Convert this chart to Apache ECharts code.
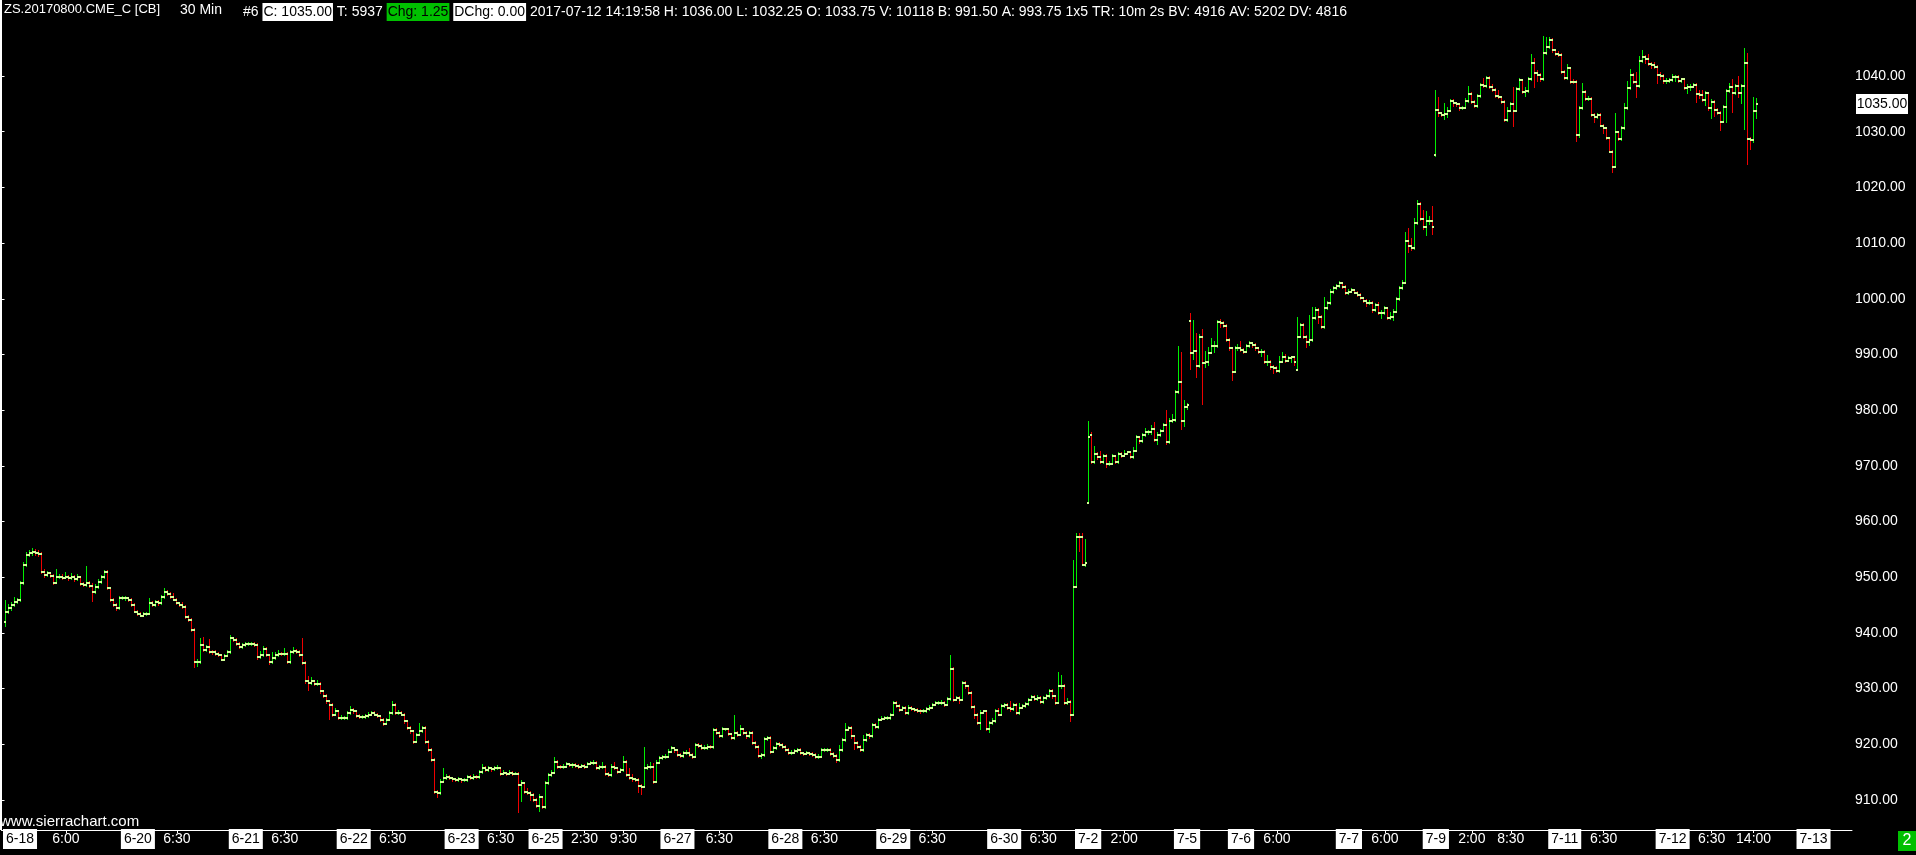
<!DOCTYPE html>
<html><head><meta charset="utf-8">
<script src="https://cdn.jsdelivr.net/npm/echarts@6/dist/echarts.min.js"></script>
<style>html,body{margin:0;padding:0;background:#000;}#c{width:1916px;height:855px;}</style>
</head><body><div id="c"></div>
<script>
// ---- data (30-min bars, ZS Aug 2017) ----
const firstBar = 1;
// each row: [open, high, low, close]
const ohlc = [
[942.0,945.9,941.1,943.8],[943.8,945.2,943.4,944.4],[944.4,945.6,944.0,945.0],[945.0,946.5,944.6,945.6],[945.6,946.3,945.2,945.9],
[945.9,949.4,945.6,948.9],[948.9,952.8,948.6,952.2],[952.2,954.6,951.8,954.0],[954.0,954.9,953.6,954.3],[954.3,955.2,953.9,954.6],
[954.6,955.0,953.9,954.3],[954.3,954.8,953.7,954.2],[954.2,954.5,950.6,951.0],[951.0,951.4,949.8,950.4],[950.4,951.1,950.0,950.7],
[950.7,951.0,949.8,950.2],[950.2,950.6,948.6,949.0],[949.0,951.4,948.8,950.0],[950.0,950.6,949.6,950.1],[950.1,950.5,949.5,949.9],
[949.9,951.0,949.6,950.1],[950.1,950.4,949.4,949.8],[949.8,950.8,949.5,950.1],[950.1,950.4,949.2,949.6],[949.6,950.5,949.3,950.0],
[950.0,950.3,948.4,948.8],[948.8,949.2,948.2,948.6],[948.6,952.0,948.2,948.9],[948.9,949.3,948.0,948.4],[948.4,949.0,945.6,947.4],
[947.4,948.7,947.0,948.3],[948.3,949.6,947.9,949.2],[949.2,950.4,948.8,950.0],[950.0,951.3,949.6,951.0],[951.0,951.3,947.7,948.0],
[948.0,948.3,945.6,945.9],[945.9,946.2,944.7,945.0],[945.0,945.3,943.9,944.4],[944.4,946.6,944.1,946.2],[946.2,946.6,945.9,946.2],
[946.2,946.6,945.8,946.2],[946.2,946.5,945.6,945.9],[945.9,946.2,944.7,945.0],[945.0,945.3,943.5,943.8],[943.8,944.1,943.0,943.4],
[943.4,943.7,942.8,943.1],[943.1,943.8,942.8,943.4],[943.4,943.8,943.0,943.4],[943.4,946.2,943.2,945.3],[945.3,945.7,944.6,945.0],
[945.0,946.0,944.7,945.6],[945.6,945.9,944.9,945.3],[945.3,946.8,945.0,946.4],[946.4,948.0,946.1,947.4],[947.4,947.7,946.6,947.0],
[947.0,947.3,946.1,946.5],[946.5,947.1,945.7,946.0],[946.0,946.3,945.0,945.3],[945.3,945.6,944.6,945.0],[945.0,945.6,944.3,944.7],
[944.7,945.0,942.5,942.9],[942.9,943.2,941.9,942.3],[942.3,942.6,940.1,940.5],[940.5,940.8,933.7,934.8],[934.8,935.3,933.9,934.8],
[934.8,939.0,934.4,937.8],[937.8,939.3,936.5,936.9],[936.9,937.8,936.5,937.4],[937.4,938.9,936.2,936.6],[936.6,937.0,936.1,936.5],
[936.5,936.9,935.9,936.3],[936.3,936.6,935.6,936.0],[936.0,936.3,934.9,935.2],[935.2,936.3,934.9,935.9],[935.9,937.0,935.6,936.6],
[936.6,939.6,936.3,939.0],[939.0,939.3,938.3,938.7],[938.7,939.0,937.6,938.0],[938.0,938.3,937.1,937.5],[937.5,938.2,937.2,937.8],
[937.8,938.4,937.5,938.0],[938.0,938.3,937.6,938.0],[938.0,938.4,937.7,938.0],[938.0,938.3,937.4,937.8],[937.8,938.1,935.1,935.7],
[935.7,936.8,935.3,936.0],[936.0,937.6,935.7,937.2],[937.2,937.5,935.6,936.0],[936.0,936.3,934.3,934.7],[934.7,936.5,934.4,935.5],
[935.5,936.6,935.2,936.0],[936.0,936.9,935.7,936.3],[936.3,936.6,935.8,936.2],[936.2,937.3,935.9,936.3],[936.3,936.6,934.4,934.8],
[934.8,937.0,934.5,936.6],[936.6,937.4,936.3,936.8],[936.8,937.1,936.2,936.6],[936.6,936.9,935.6,936.0],[936.0,939.0,934.2,934.6],
[934.6,934.9,930.9,931.3],[931.3,932.2,929.5,931.0],[931.0,932.0,930.7,931.3],[931.3,931.6,930.4,930.8],[930.8,931.6,930.5,930.8],
[930.8,931.1,929.1,929.5],[929.5,929.8,928.3,928.7],[928.7,929.0,927.3,927.7],[927.7,928.0,924.4,927.1],[927.1,927.4,924.9,925.3],
[925.3,926.5,925.0,925.9],[925.9,926.2,924.3,924.7],[924.7,925.2,924.3,924.7],[924.7,925.0,924.3,924.7],[924.7,926.0,924.4,925.6],
[925.6,926.8,925.3,926.2],[926.2,926.5,925.5,925.9],[925.9,926.2,924.8,925.1],[925.1,925.4,924.6,924.9],[924.9,925.3,924.6,924.9],
[924.9,925.5,924.6,925.1],[925.1,925.8,924.8,925.3],[925.3,926.0,925.0,925.6],[925.6,925.9,925.0,925.3],[925.3,925.6,924.7,925.0],
[925.0,925.3,924.0,924.4],[924.4,924.7,923.3,923.7],[923.7,924.8,923.4,924.4],[924.4,926.0,924.1,925.6],[925.6,927.7,925.3,927.1],
[927.1,927.4,925.3,925.6],[925.6,926.2,925.3,925.7],[925.7,926.0,925.0,925.3],[925.3,925.6,923.7,924.1],[924.1,924.4,922.5,922.9],
[922.9,923.2,921.9,922.3],[922.3,922.6,920.1,920.5],[920.5,922.1,920.2,921.7],[921.7,923.8,921.4,922.3],[922.3,923.3,922.0,922.9],
[922.9,923.2,920.1,920.5],[920.5,920.8,918.6,919.0],[919.0,919.3,916.8,917.2],[917.2,917.5,911.0,911.5],[911.5,911.8,910.3,911.2],
[911.2,913.7,910.9,913.3],[913.3,915.7,913.0,913.9],[913.9,914.6,913.6,914.2],[914.2,914.5,913.5,913.9],[913.9,914.2,913.3,913.7],
[913.7,914.0,913.2,913.6],[913.6,914.1,913.3,913.7],[913.7,914.0,913.1,913.5],[913.5,914.0,913.2,913.6],[913.6,914.5,913.3,914.1],
[914.1,914.4,913.5,913.9],[913.9,914.6,913.6,914.2],[914.2,914.5,913.7,914.1],[914.1,915.4,913.8,915.0],[915.0,916.4,914.7,915.8],
[915.8,916.1,915.0,915.4],[915.4,916.1,915.1,915.7],[915.7,916.0,915.1,915.5],[915.5,916.1,915.2,915.7],[915.7,916.3,915.3,915.7],
[915.7,916.0,914.3,914.7],[914.7,915.3,914.4,914.8],[914.8,915.1,914.3,914.7],[914.7,915.4,914.4,914.9],[914.9,915.2,914.3,914.7],
[914.7,915.1,914.4,914.7],[914.7,915.0,907.7,912.7],[912.7,913.6,909.7,913.0],[913.0,913.3,911.1,911.5],[911.5,912.1,910.9,911.3],
[911.3,911.6,909.8,910.9],[910.9,911.2,909.6,910.0],[910.0,910.3,908.5,908.9],[908.9,911.0,907.8,910.5],[910.5,910.8,908.3,908.7],
[908.7,913.4,908.4,913.0],[913.0,914.9,912.7,914.5],[914.5,915.3,914.2,914.9],[914.9,917.8,914.6,916.9],[916.9,917.2,915.6,916.0],
[916.0,916.3,915.5,915.9],[915.9,916.4,915.6,916.0],[916.0,916.8,915.7,916.4],[916.4,916.7,915.9,916.3],[916.3,916.6,915.8,916.3],
[916.3,916.6,915.7,916.1],[916.1,916.4,915.6,916.0],[916.0,916.5,915.7,916.1],[916.1,916.4,915.6,916.0],[916.0,916.9,915.7,916.5],
[916.5,917.0,916.2,916.6],[916.6,917.2,916.3,916.7],[916.7,917.0,915.3,915.7],[915.7,916.3,915.4,915.9],[915.9,916.9,915.6,916.0],
[916.0,916.3,914.3,914.7],[914.7,915.0,914.1,914.5],[914.5,916.4,914.2,916.0],[916.0,916.9,915.4,915.7],[915.7,916.0,914.7,915.1],
[915.1,915.8,914.8,915.4],[915.4,917.9,915.1,916.9],[916.9,917.2,914.1,914.5],[914.5,915.7,913.5,913.9],[913.9,914.7,913.3,913.7],
[913.7,914.0,913.2,913.6],[913.6,913.9,911.3,912.5],[912.5,912.8,910.9,912.4],[912.4,919.6,912.1,915.7],[915.7,916.4,915.3,916.0],
[916.0,916.9,915.6,916.0],[916.0,916.6,912.9,913.3],[913.3,917.1,913.0,916.7],[916.7,917.9,916.4,917.5],[917.5,918.1,917.2,917.7],
[917.7,918.2,917.4,917.8],[917.8,919.1,917.5,918.7],[918.7,919.7,918.4,919.3],[919.3,919.6,918.5,918.9],[918.9,919.2,917.7,918.1],
[918.1,918.4,917.5,917.9],[917.9,918.8,917.6,918.4],[918.4,918.9,918.1,918.5],[918.5,919.3,917.7,918.1],[918.1,918.4,917.4,917.8],
[917.8,920.3,917.5,919.9],[919.9,920.2,919.3,919.7],[919.7,920.0,918.9,919.3],[919.3,919.8,919.0,919.3],[919.3,920.0,919.0,919.6],
[919.6,919.9,919.1,919.5],[919.5,923.0,919.2,922.6],[922.6,922.9,921.6,922.0],[922.0,922.3,921.1,921.5],[921.5,923.1,921.2,922.7],
[922.7,923.0,922.3,922.7],[922.7,923.0,921.4,921.8],[921.8,922.1,920.7,921.1],[921.1,925.3,920.8,922.1],[922.1,922.4,921.3,921.7],
[921.7,923.5,921.4,922.7],[922.7,923.0,921.7,922.1],[922.1,922.4,921.0,921.4],[921.4,922.4,921.1,922.0],[922.0,922.3,919.9,920.3],
[920.3,920.6,919.2,919.6],[919.6,919.9,917.5,917.9],[917.9,918.5,917.3,918.1],[918.1,921.3,917.8,920.9],[920.9,921.5,920.6,921.1],
[921.1,921.4,918.3,918.7],[918.7,919.7,918.4,919.3],[919.3,920.5,919.0,920.1],[920.1,920.4,919.5,919.9],[919.9,920.2,919.2,919.6],
[919.6,919.9,918.6,919.0],[919.0,919.3,918.1,918.5],[918.5,918.9,918.1,918.5],[918.5,919.2,918.2,918.8],[918.8,919.4,918.5,919.0],
[919.0,919.3,918.0,918.4],[918.4,918.7,917.9,918.3],[918.3,918.8,918.0,918.4],[918.4,918.7,917.9,918.3],[918.3,918.6,917.7,918.1],
[918.1,918.4,917.4,917.8],[917.8,918.2,917.4,917.8],[917.8,919.4,917.5,919.0],[919.0,919.4,918.6,919.0],[919.0,919.3,918.6,919.0],
[919.0,919.3,917.9,918.3],[918.3,918.6,917.5,917.9],[917.9,918.2,916.7,917.1],[917.1,919.9,916.8,918.9],[918.9,921.2,918.6,920.8],
[920.8,923.8,920.5,922.6],[922.6,923.3,922.3,922.9],[922.9,923.2,921.0,921.4],[921.4,921.7,919.0,920.3],[920.3,920.6,919.2,919.6],
[919.6,919.9,918.6,919.0],[919.0,921.7,918.7,920.8],[920.8,922.1,920.5,921.7],[921.7,922.0,921.0,921.4],[921.4,923.9,921.1,923.5],
[923.5,923.8,922.7,923.1],[923.1,924.8,922.8,924.4],[924.4,925.0,924.1,924.6],[924.6,925.1,924.3,924.7],[924.7,925.0,924.3,924.7],
[924.7,925.7,924.4,925.3],[925.3,927.8,925.0,927.4],[927.4,927.7,926.5,926.9],[926.9,927.2,925.8,926.2],[926.2,926.9,925.9,926.5],
[926.5,926.8,925.2,925.6],[925.6,927.0,925.3,926.6],[926.6,926.9,925.9,926.3],[926.3,926.6,925.8,926.2],[926.2,926.5,925.6,926.0],
[926.0,926.3,925.5,925.9],[925.9,926.4,925.6,926.0],[926.0,926.7,925.7,926.3],[926.3,927.0,926.0,926.6],[926.6,927.5,926.3,927.1],
[927.1,927.8,926.8,927.4],[927.4,927.7,927.0,927.4],[927.4,927.9,927.1,927.5],[927.5,927.8,926.7,927.1],[927.1,928.5,926.8,928.1],
[928.1,936.0,927.8,933.5],[933.5,933.8,927.6,928.0],[928.0,928.7,927.7,928.3],[928.3,928.6,927.3,928.0],[928.0,931.4,927.7,931.0],
[931.0,931.3,930.0,930.4],[930.4,930.7,928.8,929.2],[929.2,929.5,926.3,926.7],[926.7,927.0,924.6,925.3],[925.3,925.6,923.5,923.9],
[923.9,926.1,922.6,925.7],[925.7,926.1,925.4,925.9],[925.9,926.2,922.3,922.7],[922.7,924.2,922.0,923.8],[923.8,924.7,923.5,924.1],
[924.1,926.4,923.8,926.0],[926.0,926.6,925.0,925.3],[925.3,927.2,925.0,926.8],[926.8,927.5,926.5,927.1],[927.1,927.4,926.1,926.5],
[926.5,927.8,925.8,926.3],[926.3,927.5,926.0,927.1],[927.1,927.4,925.2,925.6],[925.6,927.4,925.3,926.6],[926.6,927.3,926.3,926.9],
[926.9,927.6,926.6,927.2],[927.2,928.4,926.9,928.0],[928.0,928.9,927.7,928.5],[928.5,928.8,927.7,928.1],[928.1,928.8,927.8,928.4],
[928.4,928.7,927.2,927.6],[927.6,928.7,927.3,928.3],[928.3,929.1,928.0,928.7],[928.7,930.0,928.4,929.6],[929.6,929.9,928.2,928.6],
[928.6,928.9,927.1,927.5],[927.5,933.0,927.2,930.5],[930.5,932.5,930.0,930.5],[930.5,930.8,927.0,927.4],[927.4,928.3,927.1,927.6],
[927.6,927.9,924.0,925.2],[925.2,953.1,925.0,948.3],[948.3,957.9,948.0,957.3],[957.3,957.9,954.5,957.2],[957.2,957.9,952.0,952.2],
[952.2,956.8,951.8,952.5],[963.4,978.0,963.2,975.2],[975.5,976.0,970.3,970.7],[970.7,973.5,970.4,972.2],[972.2,972.5,971.0,971.6],
[971.6,972.6,970.3,970.7],[970.7,972.1,970.4,971.8],[971.8,972.1,969.7,970.3],[970.3,970.8,970.0,970.4],[970.4,972.1,970.1,971.7],
[971.7,972.0,970.3,970.7],[970.7,972.5,970.4,972.1],[972.1,972.4,971.4,971.8],[971.8,972.9,971.5,972.2],[972.2,972.7,971.9,972.4],
[972.4,972.7,971.2,971.6],[971.6,973.3,971.3,972.7],[972.7,975.5,972.4,975.1],[975.1,975.4,974.0,974.4],[974.4,975.9,974.1,975.5],
[975.5,976.8,975.2,976.0],[976.0,976.4,975.6,976.1],[976.1,977.3,975.6,976.7],[976.7,977.8,974.2,974.6],[974.6,976.0,973.7,975.5],
[975.5,976.7,975.2,976.3],[976.3,977.7,976.0,977.3],[977.3,980.0,973.8,974.2],[974.2,978.6,973.9,978.0],[978.0,979.3,977.7,978.2],
[978.2,983.7,977.9,983.3],[983.3,991.5,982.9,985.0],[985.0,990.5,976.4,978.0],[978.0,981.8,977.0,980.5],[980.5,981.3,980.1,980.9],
[996.0,997.4,987.2,990.2],[990.2,996.2,989.0,990.7],[990.7,993.8,985.7,987.9],[987.9,993.6,987.5,993.2],[993.2,994.5,981.0,988.5],
[988.5,990.6,987.5,988.7],[988.7,991.3,987.9,990.3],[990.3,992.9,990.0,991.5],[991.5,992.5,990.2,991.5],[991.5,996.2,991.2,995.8],
[995.8,996.3,994.8,995.7],[995.7,996.0,994.7,995.1],[995.1,995.4,992.2,992.6],[992.6,992.9,990.7,991.1],[991.1,991.4,985.2,986.9],
[986.9,991.5,986.6,991.1],[991.1,991.8,990.6,991.2],[991.2,992.5,990.5,990.8],[990.8,991.1,990.0,990.5],[990.5,991.9,990.2,991.5],
[991.5,992.4,991.2,992.0],[992.0,992.3,991.2,991.7],[991.7,992.0,990.7,991.1],[991.1,991.4,990.1,990.5],[990.5,991.0,989.5,990.5],
[990.5,990.8,988.3,988.7],[988.7,989.9,988.0,988.7],[988.7,989.0,987.2,987.8],[987.8,988.1,986.5,987.6],[987.6,988.0,986.6,987.0],
[987.0,989.7,986.7,988.7],[988.7,990.5,988.4,989.5],[989.5,990.0,988.4,988.9],[988.9,989.7,988.6,989.3],[989.3,989.8,988.5,989.5],
[989.5,989.8,988.0,988.7],[987.3,996.8,987.0,993.2],[993.2,995.7,992.9,995.3],[995.3,995.6,992.8,993.2],[993.2,993.5,991.2,992.3],
[992.3,997.0,991.5,992.6],[992.6,998.6,992.3,996.5],[996.5,998.6,996.2,998.0],[998.0,998.3,995.5,996.8],[996.8,997.1,994.5,994.9],
[994.9,1000.4,994.6,998.3],[998.3,999.6,998.0,999.2],[999.2,1001.7,998.9,1001.3],[1001.3,1002.3,1000.9,1001.9],[1001.9,1002.7,1001.6,1002.3],
[1002.3,1003.2,1002.0,1002.8],[1002.8,1003.1,1001.8,1002.2],[1002.2,1002.5,1000.6,1001.0],[1001.0,1001.7,1000.7,1001.3],[1001.3,1001.9,1001.0,1001.5],
[1001.5,1001.8,1000.8,1001.1],[1001.1,1001.4,1000.3,1000.7],[1000.7,1001.0,999.7,1000.1],[1000.1,1000.4,999.2,999.6],[999.6,999.9,998.6,999.3],
[999.3,999.7,998.9,999.3],[999.3,999.6,997.5,997.9],[997.9,999.3,997.6,998.9],[998.9,999.4,997.0,997.4],[997.4,998.0,996.4,997.4],
[997.4,998.7,997.1,998.3],[998.3,998.6,996.1,996.5],[996.5,997.7,996.2,996.8],[996.8,998.1,996.0,997.7],[997.7,1000.3,997.4,999.9],
[999.9,1002.3,999.6,1001.9],[1001.9,1003.3,1001.6,1002.9],[1002.9,1012.0,1002.6,1010.3],[1010.3,1012.7,1008.2,1009.5],[1009.5,1011.0,1008.5,1009.1],
[1009.1,1014.5,1008.8,1013.6],[1013.6,1017.8,1013.3,1017.1],[1017.1,1017.4,1013.9,1014.3],[1014.3,1015.9,1012.4,1012.8],[1012.8,1015.8,1011.3,1013.9],
[1013.9,1014.8,1013.2,1014.0],[1014.0,1016.7,1011.5,1012.8],[1025.9,1037.5,1025.5,1033.9],[1033.9,1036.2,1032.7,1033.3],[1033.3,1033.6,1032.6,1033.0],
[1033.0,1035.1,1032.1,1033.1],[1033.1,1034.4,1032.5,1033.8],[1033.8,1035.9,1033.5,1035.5],[1035.5,1035.8,1034.4,1035.1],[1035.1,1035.4,1034.5,1034.9],
[1034.9,1035.2,1033.8,1034.2],[1034.2,1034.7,1033.9,1034.3],[1034.3,1036.0,1034.0,1035.5],[1035.5,1038.2,1035.2,1036.8],[1036.8,1037.1,1035.0,1035.4],
[1035.4,1035.7,1034.2,1034.6],[1034.6,1036.8,1034.3,1036.4],[1036.4,1038.8,1036.1,1038.4],[1038.4,1039.6,1037.8,1038.2],[1038.2,1040.0,1037.9,1039.7],
[1039.7,1040.0,1037.7,1038.1],[1038.1,1038.6,1037.1,1037.5],[1037.5,1037.8,1036.0,1036.4],[1036.4,1037.4,1035.8,1036.2],[1036.2,1036.5,1035.0,1035.4],
[1035.4,1035.7,1031.8,1032.1],[1032.1,1034.5,1031.8,1033.8],[1033.8,1035.4,1033.5,1035.0],[1035.0,1038.1,1030.9,1033.8],[1033.8,1038.0,1033.5,1037.6],
[1037.6,1039.6,1037.3,1039.2],[1039.2,1039.5,1036.8,1037.2],[1037.2,1038.0,1036.2,1037.3],[1037.3,1039.8,1037.0,1039.4],[1039.4,1044.0,1039.1,1042.4],
[1042.4,1043.2,1037.8,1040.6],[1040.6,1041.0,1039.0,1040.2],[1040.2,1040.5,1039.0,1039.4],[1039.4,1047.2,1039.1,1044.1],[1044.1,1047.0,1043.8,1045.2],
[1045.2,1047.0,1044.9,1046.5],[1046.5,1046.8,1044.2,1044.6],[1044.6,1044.9,1043.6,1044.0],[1044.0,1044.5,1043.5,1043.8],[1043.8,1044.1,1040.3,1040.7],
[1040.7,1041.0,1039.2,1039.6],[1039.6,1042.2,1039.3,1041.4],[1041.4,1041.7,1038.6,1039.0],[1039.0,1039.5,1038.6,1038.9],[1038.9,1039.2,1028.2,1029.4],
[1029.4,1034.6,1028.8,1034.2],[1034.2,1038.7,1033.9,1037.2],[1037.2,1037.5,1035.5,1035.8],[1035.8,1036.5,1035.5,1035.9],[1035.9,1036.2,1032.7,1033.0],
[1033.0,1033.4,1031.6,1032.6],[1032.6,1033.4,1032.3,1033.0],[1033.0,1033.3,1030.8,1031.1],[1031.1,1031.4,1029.6,1030.6],[1030.6,1030.9,1028.5,1028.8],
[1028.8,1029.1,1026.1,1026.4],[1026.4,1026.7,1022.5,1023.7],[1023.7,1033.3,1023.4,1029.9],[1029.9,1030.2,1028.4,1028.7],[1028.7,1031.0,1028.4,1030.6],
[1030.6,1035.1,1030.3,1034.2],[1034.2,1039.1,1033.9,1037.8],[1037.8,1041.2,1037.5,1040.2],[1040.2,1040.5,1038.6,1038.9],[1038.9,1040.8,1036.0,1038.2],
[1038.2,1043.6,1037.9,1042.7],[1042.7,1044.6,1042.4,1043.4],[1043.4,1043.7,1042.1,1043.0],[1043.0,1044.0,1041.8,1042.1],[1042.1,1042.6,1041.3,1041.9],
[1041.9,1042.5,1041.2,1041.6],[1041.6,1041.9,1038.6,1040.1],[1040.1,1040.8,1039.3,1040.0],[1040.0,1040.3,1038.6,1039.1],[1039.1,1039.6,1038.6,1039.1],
[1039.1,1039.6,1038.8,1039.3],[1039.3,1040.4,1039.0,1039.8],[1039.8,1040.1,1038.9,1039.8],[1039.8,1040.1,1038.7,1039.1],[1039.1,1039.7,1038.8,1039.4],
[1039.4,1039.7,1037.4,1037.8],[1037.8,1038.5,1036.8,1038.1],[1038.1,1038.6,1037.3,1038.1],[1038.1,1038.8,1037.8,1038.4],[1038.4,1038.7,1035.2,1036.8],
[1036.8,1037.4,1035.9,1036.6],[1036.6,1037.5,1035.3,1035.7],[1035.7,1037.3,1034.6,1036.9],[1036.9,1037.2,1033.8,1034.2],[1034.2,1035.8,1032.2,1035.4],
[1035.4,1035.7,1032.6,1033.9],[1033.9,1034.2,1033.0,1033.4],[1033.4,1033.7,1030.1,1031.8],[1031.8,1034.8,1031.5,1034.4],[1034.4,1037.7,1031.6,1037.3],
[1037.3,1038.8,1037.0,1038.1],[1038.1,1039.5,1033.4,1036.9],[1036.9,1038.6,1036.6,1038.2],[1038.2,1040.0,1036.0,1036.9],[1036.9,1038.6,1035.0,1038.2],
[1038.2,1045.0,1030.3,1042.3],[1042.3,1044.1,1024.0,1028.7],[1028.7,1029.0,1026.7,1028.5],[1028.5,1036.3,1028.0,1033.75],[1033.75,1036.0,1032.25,1035.0]
];
const xLabelBars  = [0,21,45,58,81,94,117,130,153,166,181,194,207,225,239,261,274,297,310,334,347,362,374,395,413,425,449,461,478,490,503,521,534,557,570,584,604];
const xLabelTexts = ['6-18','6:00','6-20','6:30','6-21','6:30','6-22','6:30','6-23','6:30','6-25','2:30','9:30','6-27','6:30','6-28','6:30','6-29','6:30','6-30','6:30','7-2','2:00','7-5','7-6','6:00','7-7','6:00','7-9','2:00','8:30','7-11','6:30','7-12','6:30','14:00','7-13'];
const yTicks = [910,920,930,940,950,960,970,980,990,1000,1010,1020,1030,1040];
const headerSymbol = 'ZS.20170800.CME_C [CB]';
const headerPeriod = '30 Min';
const headerRest = '#6 {w|C: 1035.00} T: 5937 {g|Chg: 1.25} {w|DChg: 0.00} 2017-07-12 14:19:58 H: 1036.00 L: 1032.25 O: 1033.75 V: 10118 B: 991.50 A: 993.75 1x5 TR: 10m 2s BV: 4916 AV: 5202 DV: 4816';
const footerText = 'www.sierrachart.com';
const cornerText = '2';

// ---- chart ----
const FONT = "'Liberation Sans', Arial, sans-serif";
const UP = '#00ee00', DOWN = '#ee0000', TICKC = '#d2ff96';
const chart = echarts.init(document.getElementById('c'), null, {renderer: 'canvas'});
const seriesData = ohlc.map((r, k) => [firstBar + k + 0.5, r[0], r[1], r[2], r[3]]);
const labelValues = xLabelBars.map(b => b + 0.5);
function xFmt(v) {
  for (let k = 0; k < labelValues.length; k++) {
    if (Math.abs(labelValues[k] - v) < 0.01) {
      const t = xLabelTexts[k];
      return t.indexOf('-') >= 0 ? '{d|' + t + '}' : '{t|' + t + '}';
    }
  }
  return '';
}
chart.setOption({
  backgroundColor: '#000000',
  animation: false,
  grid: {left: 0, right: 64, top: 0, bottom: 25, containLabel: false},
  xAxis: {
    type: 'value', min: 0, max: 1852 / 3, position: 'bottom',
    axisLine: {show: true, onZero: false, lineStyle: {color: '#ffffff', width: 1}},
    axisTick: {show: true, length: 3, customValues: labelValues, lineStyle: {color: '#ffffff'}},
    splitLine: {show: false},
    axisLabel: {
      customValues: labelValues, formatter: xFmt, margin: 2, alignMinLabel: 'left', hideOverlap: false,
      rich: {
        d: {backgroundColor: '#ffffff', color: '#000000', padding: [3, 3, 3, 3], fontSize: 14, lineHeight: 14, fontFamily: FONT},
        t: {color: '#ffffff', padding: [3, 0, 3, 0], fontSize: 14, lineHeight: 14, fontFamily: FONT}
      }
    }
  },
  yAxis: {
    type: 'value', position: 'right', min: 904.61, max: 1053.65, scale: true,
    axisLine: {show: true, lineStyle: {color: '#ffffff', width: 1}},
    axisTick: {show: true, length: 3, customValues: yTicks, lineStyle: {color: '#ffffff'}},
    splitLine: {show: false},
    axisLabel: {customValues: yTicks, formatter: v => v.toFixed(2), color: '#ffffff', fontSize: 14, fontFamily: FONT, margin: 3}
  },
  series: [{
    type: 'custom', silent: true, clip: true,
    encode: {x: 0, y: [1, 2, 3, 4]},
    data: seriesData,
    renderItem: function (params, api) {
      const x = api.value(0), o = api.value(1), h = api.value(2), l = api.value(3), c = api.value(4);
      const ph = api.coord([x, h]), pl = api.coord([x, l]), po = api.coord([x, o]), pc = api.coord([x, c]);
      const cx = Math.round(ph[0] - 0.5);
      const top = Math.round(ph[1]), bot = Math.round(pl[1]);
      const col = c >= o ? UP : DOWN;
      return {type: 'group', children: [
        {type: 'rect', shape: {x: cx, y: top, width: 1, height: Math.max(1, bot - top)}, style: {fill: col}},
        {type: 'rect', shape: {x: cx - 1, y: Math.round(po[1]) - 1, width: 2, height: 2}, style: {fill: TICKC}},
        {type: 'rect', shape: {x: cx, y: Math.round(pc[1]) - 1, width: 2, height: 2}, style: {fill: TICKC}}
      ]};
    }
  }]
});
const lastClose = ohlc[ohlc.length - 1][3];
const yLast = chart.convertToPixel({yAxisIndex: 0}, lastClose);
chart.setOption({
  graphic: [
    {type: 'rect', id: 'lb', shape: {x: 0, y: 0, width: 1, height: 830}, style: {fill: '#ffffff'}, silent: true},
    {type: 'text', id: 'h1', x: 4, y: 3, style: {text: headerSymbol, fill: '#ffffff', font: '13px ' + FONT}},
    {type: 'text', id: 'h2', x: 180, y: 3, style: {text: headerPeriod, fill: '#ffffff', font: '14px ' + FONT}},
    {type: 'text', id: 'h3', x: 243, y: 3, style: {
      text: headerRest, fill: '#ffffff', font: '14px ' + FONT,
      rich: {
        w: {backgroundColor: '#ffffff', fill: '#000000', color: '#000000', padding: [2, 1, 2, 1], font: '14px ' + FONT},
        g: {backgroundColor: '#00c000', fill: '#000000', color: '#000000', padding: [2, 1, 2, 1], font: '14px ' + FONT}
      }}},
    {type: 'text', id: 'ft', x: 0, y: 822, style: {text: footerText, fill: '#ffffff', font: '15px ' + FONT, verticalAlign: 'middle'}},
    {type: 'rect', id: 'pb', shape: {x: 1856, y: Math.round(yLast) - 10, width: 52, height: 20}, style: {fill: '#ffffff'}},
    {type: 'text', id: 'pt', x: 1882, y: Math.round(yLast), style: {text: lastClose.toFixed(2), fill: '#000000', font: '14px ' + FONT, align: 'center', verticalAlign: 'middle'}},
    {type: 'rect', id: 'cb', shape: {x: 1898, y: 831, width: 18, height: 20}, style: {fill: '#00c000'}},
    {type: 'text', id: 'ct', x: 1907, y: 841, style: {text: cornerText, fill: '#ffffff', font: '16px ' + FONT, align: 'center', verticalAlign: 'middle'}}
  ]
});
</script>
</body></html>
